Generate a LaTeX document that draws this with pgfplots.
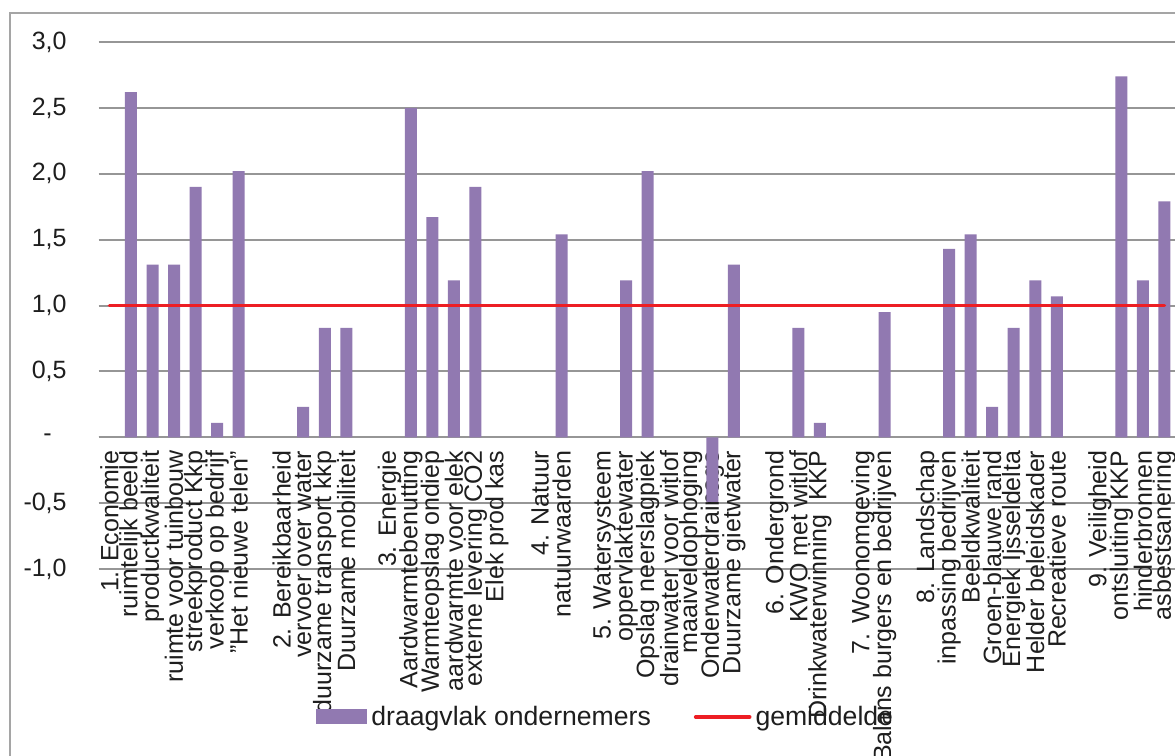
\documentclass[border=0pt]{standalone}
\usepackage{fontspec}
\setmainfont{Liberation Sans}
\usepackage{pgfplots}
\usepackage{pgfplotstable}
\pgfplotsset{compat=1.18}
\definecolor{barpurple}{RGB}{145,121,177}
\definecolor{avgred}{RGB}{237,30,36}
\definecolor{gridgray}{RGB}{150,150,150}
\definecolor{framegray}{RGB}{165,165,165}
\definecolor{labelcol}{RGB}{30,30,30}

\pgfplotstableread{
x y
1 2.62
2 1.31
3 1.31
4 1.90
5 0.11
6 2.02
9 0.23
10 0.83
11 0.83
14 2.50
15 1.67
16 1.19
17 1.90
21 1.54
24 1.19
25 2.02
28 -0.49
29 1.31
32 0.83
33 0.11
36 0.95
39 1.43
40 1.54
41 0.23
42 0.83
43 1.19
44 1.07
47 2.74
48 1.19
49 1.79
}\barsdata

\pgfplotstableread{
x y
0 1
1 1
2 1
3 1
4 1
5 1
6 1
7 1
8 1
9 1
10 1
11 1
12 1
13 1
14 1
15 1
16 1
17 1
18 1
19 1
20 1
21 1
22 1
23 1
24 1
25 1
26 1
27 1
28 1
29 1
30 1
31 1
32 1
33 1
34 1
35 1
36 1
37 1
38 1
39 1
40 1
41 1
42 1
43 1
44 1
45 1
46 1
47 1
48 1
49 1
}\avgdata

\begin{document}
\begin{tikzpicture}
\useasboundingbox (0,0) rectangle (587.5pt,378pt);
\fill[white] (0,0) rectangle (587.5pt,378pt);
\draw[framegray, line width=0.8pt] (5pt,-2pt) -- (5pt,371.5pt) -- (600pt,371.5pt);
\begin{axis}[
  at={(49.35pt,93.5pt)}, anchor=south west,
  scale only axis, width=538.25pt, height=263.5pt,
  xmin=-0.5, xmax=49.5, ymin=-1, ymax=3,
  axis x line=middle, axis y line=left,
  x axis line style={-, draw=gridgray, line width=1pt},
  y axis line style={draw=none},
  hide obscured x ticks=false, hide obscured y ticks=false,
  major tick length=0pt,
  tick style={draw=none},
  ymajorgrids, grid style={gridgray, line width=1pt},
  font=\fontsize{12.5}{14}\selectfont,
  ytick={-1,-0.5,0,0.5,1,1.5,2,2.5,3},
  yticklabels={{-1,0},{-0,5},{-\kern7.5pt},{0,5},{1,0},{1,5},{2,0},{2,5},{3,0}},
  yticklabel style={anchor=east, inner sep=0pt, xshift=-15.85pt, text=labelcol},
  xtick={0,...,49},
  xticklabels={{1. Economie},{ruimtelijk beeld},{productkwaliteit},{ruimte voor tuinbouw},{streekproduct Kkp},{verkoop op bedrijf},{\symbol{34}Het nieuwe telen\symbol{34}},{},{2. Bereikbaarheid},{vervoer over water},{duurzame transport kkp},{Duurzame mobiliteit},{},{3. Energie},{Aardwarmtebenutting},{Warmteopslag ondiep},{aardwarmte voor elek},{externe levering CO2},{Elek prod kas},{},{4. Natuur},{natuurwaarden},{},{5. Watersysteem},{oppervlaktewater},{Opslag neerslagpiek},{drainwater voor witlof},{maaiveldophoging},{Onderwaterdrainage},{Duurzame gietwater},{},{6. Ondergrond},{KWO met witlof},{Drinkwaterwinning\ \ KKP},{},{7. Woonomgeving},{Balans burgers en bedrijven},{},{8. Landschap},{inpassing bedrijven},{Beeldkwaliteit},{Groen-blauwe rand},{Energiek Ijsseldelta},{Helder beleidskader},{Recreatieve route},{},{9. Veiligheid},{ontsluiting KKP},{hinderbronnen},{asbestsanering}},
  xticklabel style={rotate=90, anchor=east, inner sep=6.5pt, text=labelcol},
  legend columns=2,
  legend style={at={(0.2019,-0.2808)}, anchor=west, draw=none, fill=none, inner sep=0pt,
    font=\fontsize{13.3}{15}\selectfont, text=labelcol,
    /tikz/every even column/.append style={column sep=19.5pt}},
  legend cell align=left,
]
\addplot[ybar, bar width=6pt, fill=barpurple, draw=none,
  legend image code/.code={\fill[barpurple] (0pt,-3.75pt) rectangle (25.5pt,3.75pt);}]
  table[x=x,y=y]{\barsdata};
\addlegendentry{draagvlak ondernemers}
\addplot[avgred, line width=1.8pt, line cap=round, mark=none,
  legend image code/.code={\draw[avgred,line width=1.8pt,line cap=round] (0pt,0pt) -- (27pt,0pt);}]
  table[x=x,y=y]{\avgdata};
\addlegendentry{gemiddelde}
\end{axis}
\end{tikzpicture}
\end{document}
